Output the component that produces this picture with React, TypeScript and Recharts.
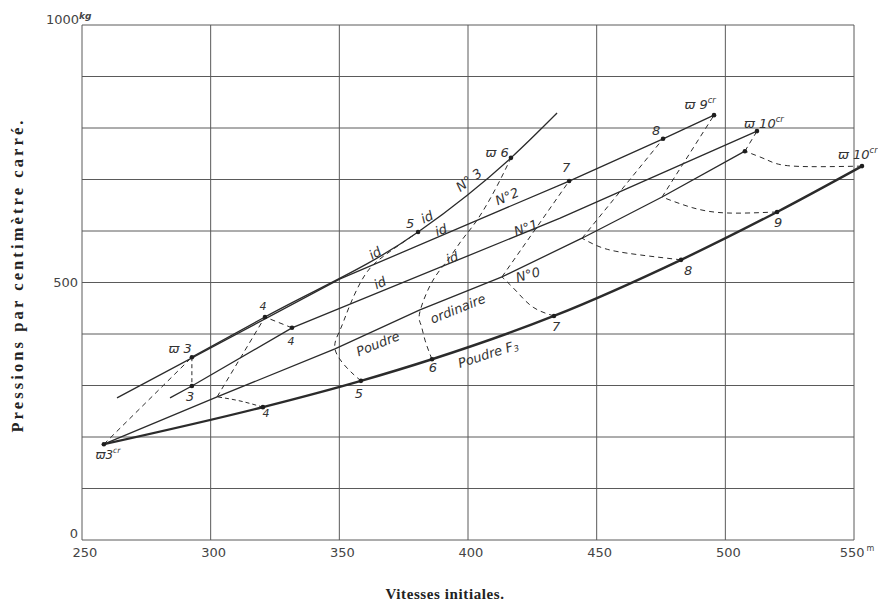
import React from "react";
import { ComposedChart, Line, XAxis, YAxis, ReferenceLine, ReferenceDot } from "recharts";

const X_TICKS = [250, 300, 350, 400, 450, 500, 550];
const X_GRID = [250, 300, 350, 400, 450, 500, 550];
const Y_GRID = [0, 100, 200, 300, 400, 500, 600, 700, 800, 900, 1000];
const Y_TICKS = [0, 500];

type P = { x: number; y: number; m?: number };

// Poudre F3 (thick)
const poudreF3: P[] = [
  { x: 258.5, y: 186, m: 1 },
  { x: 320.3, y: 258, m: 1 },
  { x: 358.4, y: 309, m: 1 },
  { x: 386.0, y: 351, m: 1 },
  { x: 433.4, y: 435, m: 1 },
  { x: 482.8, y: 544, m: 1 },
  { x: 520.1, y: 637, m: 1 },
  { x: 553.1, y: 726, m: 1 },
];
// Poudre ordinaire N°0
const no0: P[] = [
  { x: 258.5, y: 186 },
  { x: 302.5, y: 278 },
  { x: 348.3, y: 371 },
  { x: 381.3, y: 447 },
  { x: 413.2, y: 511 },
  { x: 444.3, y: 586 },
  { x: 475.4, y: 666 },
  { x: 507.6, y: 755, m: 1 },
];
const no1: P[] = [
  { x: 284.2, y: 276 },
  { x: 292.7, y: 299, m: 1 },
  { x: 331.6, y: 412, m: 1 },
  { x: 435.8, y: 625 },
  { x: 512.3, y: 794, m: 1 },
];
const no2: P[] = [
  { x: 263.6, y: 276 },
  { x: 350.3, y: 507 },
  { x: 439.3, y: 697, m: 1 },
  { x: 475.8, y: 779, m: 1 },
  { x: 495.6, y: 825, m: 1 },
];
const no3: P[] = [
  { x: 292.7, y: 355, m: 1 },
  { x: 321.1, y: 433, m: 1 },
  { x: 380.6, y: 598, m: 1 },
  { x: 416.7, y: 742, m: 1 },
  { x: 434.6, y: 829 },
];

// dashed curves of equal charge
const c3a: P[] = [{ x: 258.5, y: 186 }, { x: 292.7, y: 355 }];
const c3b: P[] = [{ x: 292.7, y: 355 }, { x: 292.7, y: 299 }];
const c4a: P[] = [{ x: 320.3, y: 258 }, { x: 311.4, y: 270 }, { x: 302.5, y: 278 }];
const c4b: P[] = [{ x: 302.5, y: 278 }, { x: 321.1, y: 433 }, { x: 331.6, y: 412 }];
const c5: P[] = [
  { x: 358.4, y: 309 },
  { x: 353.0, y: 334 },
  { x: 348.3, y: 371 },
  { x: 350.3, y: 408 },
  { x: 354.1, y: 456 },
  { x: 360.0, y: 515 },
  { x: 367.7, y: 553 },
  { x: 380.6, y: 598 },
];
const c6: P[] = [
  { x: 386.0, y: 351 },
  { x: 383.3, y: 388 },
  { x: 381.7, y: 418 },
  { x: 381.3, y: 443 },
  { x: 386.0, y: 501 },
  { x: 392.2, y: 544 },
  { x: 397.7, y: 583 },
  { x: 403.5, y: 621 },
  { x: 410.5, y: 680 },
  { x: 416.7, y: 742 },
];
const c7a: P[] = [{ x: 433.4, y: 435 }, { x: 425.3, y: 452 }, { x: 419.0, y: 482 }, { x: 413.2, y: 511 }];
const c7b: P[] = [{ x: 413.2, y: 511 }, { x: 439.3, y: 697 }];
const c8a: P[] = [{ x: 482.8, y: 544 }, { x: 461.8, y: 557 }, { x: 451.3, y: 569 }, { x: 444.3, y: 586 }];
const c8b: P[] = [{ x: 444.3, y: 586 }, { x: 475.8, y: 779 }];
const c9a: P[] = [{ x: 520.1, y: 637 }, { x: 500.6, y: 635 }, { x: 487.4, y: 645 }, { x: 475.4, y: 666 }];
const c9b: P[] = [{ x: 475.4, y: 666 }, { x: 495.6, y: 825 }];
const c10a: P[] = [{ x: 553.1, y: 726 }, { x: 526.3, y: 726 }, { x: 516.2, y: 738 }, { x: 507.6, y: 755 }];
const c10b: P[] = [{ x: 507.6, y: 755 }, { x: 512.3, y: 794 }];

type Lab = { x: number; y: number; t: string; sup?: string; sub?: string; a?: number; fs?: number };
const labels: Lab[] = [
  { x: 260.1, y: 165, t: "ϖ3", sup: "cr", fs: 12 },
  { x: 288.1, y: 371, t: "ϖ 3" },
  { x: 292.0, y: 278, t: "3" },
  { x: 320.3, y: 454, t: "4", fs: 11 },
  { x: 331.2, y: 386, t: "4", fs: 11 },
  { x: 321.5, y: 245, t: "4", fs: 11 },
  { x: 357.6, y: 285, t: "5" },
  { x: 377.5, y: 614, t: "5" },
  { x: 384.1, y: 627, t: "id", a: -25 },
  { x: 386.4, y: 334, t: "6" },
  { x: 411.3, y: 753, t: "ϖ 6" },
  { x: 434.2, y: 414, t: "7" },
  { x: 438.1, y: 724, t: "7" },
  { x: 485.5, y: 524, t: "8" },
  { x: 473.1, y: 796, t: "8" },
  { x: 520.5, y: 617, t: "9" },
  { x: 490.2, y: 845, t: "ϖ 9", sup: "cr" },
  { x: 515.0, y: 808, t: "ϖ 10", sup: "cr" },
  { x: 551.5, y: 748, t: "ϖ 10", sup: "cr" },
  { x: 400.4, y: 699, t: "N° 3", a: -37 },
  { x: 415.2, y: 667, t: "N°2", a: -24 },
  { x: 422.5, y: 606, t: "N°1", a: -20 },
  { x: 423.3, y: 515, t: "N°0", a: -15 },
  { x: 365.0, y: 381, t: "Poudre", a: -22 },
  { x: 396.1, y: 449, t: "ordinaire", a: -22 },
  { x: 407.8, y: 361, t: "Poudre F", sub: "3", a: -18 },
  { x: 363.9, y: 557, t: "id", a: -30 },
  { x: 365.8, y: 499, t: "id", a: -25 },
  { x: 389.5, y: 602, t: "id", a: -20 },
  { x: 393.8, y: 548, t: "id", a: -20 },
];

const INK = "#2b2b2b";
const GRID = "#5a5a5a";

const dotFn = (p: any) =>
  p && p.payload && p.payload.m ? (
    <circle key={`d${p.index}`} cx={p.cx} cy={p.cy} r={2.3} fill="#1e1e1e" />
  ) : (
    <g key={`d${p.index}`} />
  );

const labelRenderer = (l: Lab) => (props: any) => {
  const vb = props.viewBox || {};
  const cx = (vb.x ?? 0) + (vb.width ?? 0) / 2;
  const cy = (vb.y ?? 0) + (vb.height ?? 0) / 2;
  const fs = l.fs ?? 13;
  return (
    <text
      x={cx}
      y={cy}
      textAnchor="middle"
      dominantBaseline="central"
      fontFamily="DejaVu Sans, sans-serif"
      fontStyle="italic"
      fontSize={fs}
      fill="#333"
      transform={l.a ? `rotate(${l.a} ${cx} ${cy})` : undefined}
    >
      {l.t}
      {l.sup ? (
        <tspan fontSize={fs * 0.65} dy={-fs * 0.4}>
          {l.sup}
        </tspan>
      ) : null}
      {l.sub ? (
        <tspan fontSize={fs * 0.65} dy={fs * 0.25}>
          {l.sub}
        </tspan>
      ) : null}
    </text>
  );
};

const XTick = (props: any) => {
  const { x, y, payload } = props;
  const v = payload.value;
  return (
    <text x={x + 3} y={y + 9} textAnchor="middle" fontFamily="DejaVu Sans, sans-serif" fontSize={13} fill="#444">
      {v}
      {v === 550 ? (
        <tspan fontSize={8} dy={-6} dx={2}>
          m
        </tspan>
      ) : null}
    </text>
  );
};

const YTick = (props: any) => {
  const { x, y, payload } = props;
  const v = payload.value;
  const dy = v === 500 ? 4 : -2;
  return (
    <text x={x + 4} y={y + dy} textAnchor="end" fontFamily="DejaVu Sans, sans-serif" fontSize={13} fill="#444">
      {v}
    </text>
  );
};

const series: { d: P[]; w: number; dash?: string; type: "linear" | "monotone" | "natural" }[] = [
  { d: poudreF3, w: 2.4, type: "monotone" },
  { d: no0, w: 1.3, type: "linear" },
  { d: no1, w: 1.3, type: "linear" },
  { d: no2, w: 1.3, type: "linear" },
  { d: no3, w: 1.3, type: "monotone" },
  { d: c3a, w: 1, dash: "5 4", type: "linear" },
  { d: c3b, w: 1, dash: "4 3", type: "linear" },
  { d: c4a, w: 1, dash: "4 3", type: "natural" },
  { d: c4b, w: 1, dash: "5 4", type: "linear" },
  { d: c5, w: 1, dash: "5 4", type: "natural" },
  { d: c6, w: 1, dash: "5 4", type: "natural" },
  { d: c7a, w: 1, dash: "5 4", type: "natural" },
  { d: c7b, w: 1, dash: "5 4", type: "linear" },
  { d: c8a, w: 1, dash: "5 4", type: "natural" },
  { d: c8b, w: 1, dash: "5 4", type: "linear" },
  { d: c9a, w: 1, dash: "5 4", type: "natural" },
  { d: c9b, w: 1, dash: "5 4", type: "linear" },
  { d: c10a, w: 1, dash: "5 4", type: "natural" },
  { d: c10b, w: 1, dash: "5 4", type: "linear" },
];

export default function App() {
  return (
    <div style={{ position: "relative", width: 870, height: 592, background: "#fff" }}>
      <ComposedChart width={870} height={592} margin={{ top: 17, right: 3.4, bottom: 30, left: 0 }}>
        <XAxis
          type="number"
          dataKey="x"
          domain={[250, 558]}
          allowDataOverflow
          ticks={X_TICKS}
          axisLine={false}
          tickLine={false}
          tick={XTick}
          height={30}
        />
        <YAxis
          type="number"
          dataKey="y"
          domain={[0, 1000]}
          allowDataOverflow
          ticks={Y_TICKS}
          axisLine={false}
          tickLine={false}
          tick={YTick}
          width={74}
        />
        {Y_GRID.map((v) => (
          <ReferenceLine
            key={`h${v}`}
            segment={[
              { x: 250, y: v },
              { x: 550, y: v },
            ]}
            stroke={GRID}
            strokeWidth={1}
          />
        ))}
        {X_GRID.map((v) => (
          <ReferenceLine
            key={`v${v}`}
            segment={[
              { x: v, y: 0 },
              { x: v, y: 1000 },
            ]}
            stroke={GRID}
            strokeWidth={1}
          />
        ))}
        {series.map((s, i) => (
          <Line
            key={`s${i}`}
            data={s.d}
            dataKey="y"
            type={s.type}
            stroke={INK}
            strokeWidth={s.w}
            strokeDasharray={s.dash}
            dot={dotFn}
            activeDot={false}
            isAnimationActive={false}
          />
        ))}
        {labels.map((l, i) => (
          <ReferenceDot key={`l${i}`} x={l.x} y={l.y} r={1} fill="none" stroke="none" label={labelRenderer(l)} />
        ))}
      </ComposedChart>
      <div
        style={{
          position: "absolute",
          left: 38,
          top: 3,
          fontFamily: "DejaVu Sans, sans-serif",
          fontSize: 13,
          color: "#444",
          whiteSpace: "nowrap",
        }}
      >
        1000
        <span style={{ fontSize: 9, fontStyle: "italic", fontWeight: "bold", verticalAlign: "super" }}>kg</span>
      </div>
      <div
        style={{
          position: "absolute",
          left: 10,
          top: 267,
          width: 0,
          height: 0,
        }}
      >
        <div
          style={{
            position: "absolute",
            transform: "translate(-50%, -50%) rotate(-90deg)",
            whiteSpace: "nowrap",
            fontFamily: "Liberation Serif, serif",
            fontWeight: "bold",
            fontSize: 16.5,
            letterSpacing: 3.1,
            color: "#222",
          }}
        >
          Pressions par centimètre carré.
        </div>
      </div>
      <div
        style={{
          position: "absolute",
          left: 437,
          top: 586,
          width: 0,
          height: 0,
        }}
      >
        <div
          style={{
            position: "absolute",
            transform: "translate(-50%, -50%)",
            whiteSpace: "nowrap",
            fontFamily: "Liberation Serif, serif",
            fontWeight: "bold",
            fontSize: 15,
            letterSpacing: 0.6,
            color: "#222",
          }}
        >
          Vitesses initiales.
        </div>
      </div>
    </div>
  );
}
